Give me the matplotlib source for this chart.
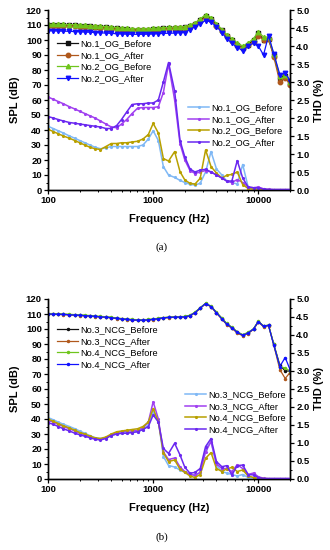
import numpy as np
import matplotlib
matplotlib.use('Agg')
import matplotlib.pyplot as plt
from matplotlib.ticker import MultipleLocator, FormatStrFormatter, LogLocator, NullFormatter

plt.rcParams['font.family'] = ['Liberation Sans', 'DejaVu Sans']

freq = [100, 112, 125, 140, 160, 180, 200, 224, 250, 280, 315, 355, 400, 450,
        500, 560, 630, 710, 800, 900, 1000, 1120, 1250, 1400, 1600, 1800, 2000,
        2240, 2500, 2800, 3150, 3550, 4000, 4500, 5000, 5600, 6300, 7100, 8000,
        9000, 10000, 11200, 12500, 14000, 16000, 18000, 20000]

# ---- panel (a) SPL, dB
spl_no1_og_before = [110, 110, 110, 110, 109.8, 109.7, 109.5, 109.4, 109.2, 109, 108.8,
                     108.5, 108.2, 107.8, 107.5, 107.2, 107, 106.8, 106.8, 107, 107.2,
                     107.5, 107.8, 108, 108, 108.2, 108.5, 109.5, 111, 113.5, 116, 114,
                     110, 106.5, 103, 100, 97, 95, 97, 100, 105, 100, 100.5, 90, 75, 76, 71]
spl_no1_og_after = [109.5, 109.5, 109.5, 109.4, 109.3, 109.2, 109, 108.8, 108.6, 108.4,
                    108.2, 108, 107.6, 107.2, 107, 106.8, 106.6, 106.5, 106.5, 106.6,
                    106.8, 107, 107.4, 107.6, 107.8, 108, 108.2, 109, 110.5, 113, 115,
                    113.5, 109.5, 106, 102.5, 99.5, 96.5, 94.5, 96.5, 99, 103, 100, 101,
                    89, 72, 75, 70]
spl_no2_og_before = [110.5, 110.5, 110.5, 110.4, 110.3, 110.2, 110, 109.8, 109.6, 109.4,
                     109.2, 109, 108.7, 108.3, 108, 107.8, 107.6, 107.4, 107.4, 107.6,
                     107.8, 108, 108.3, 108.5, 108.6, 108.8, 109, 110, 111.5, 114, 117,
                     115, 111, 107, 103.5, 101, 98, 96, 98, 101, 105.5, 102, 102, 91, 76,
                     77, 72]
spl_no2_og_after = [106.2, 106.1, 106, 105.9, 105.8, 105.6, 105.5, 105.3, 105.2, 105,
                    104.8, 104.6, 104.4, 104.2, 104, 103.9, 103.8, 103.8, 103.8, 103.9,
                    104, 104.2, 104.4, 104.5, 104.6, 104.8, 105, 107, 109, 111, 113, 112,
                    109, 105, 101, 98, 95, 93, 96, 98, 96, 90, 103, 91, 77, 78, 73]

# ---- panel (a) THD, read in left-axis units (120 dB <-> 5 %)
thd_no1_og_before = [42.5, 41, 39.5, 38, 36, 34.5, 33, 31.5, 30, 28.5, 27.5, 28, 29, 29,
                     29, 29, 29, 29, 30, 34, 39.5, 33, 15.6, 10, 8.4, 6.4, 5, 3.8, 3.3,
                     4.5, 12, 25.6, 14, 10, 6, 5, 4, 17, 2, 1, 0.8, 0.5, 0.3, 0.2, 0.2,
                     0.2, 0.2]
thd_no1_og_after = [62, 60.5, 59, 57.5, 55.5, 54, 52.5, 51, 49.5, 48, 46, 44, 42, 41.5,
                    44, 47, 51, 54.5, 55, 55, 55, 55.5, 65, 84, 60, 31, 20, 13, 11, 12,
                    13, 12, 10, 8, 6, 5, 7, 5, 2, 1.5, 2, 0.8, 0.5, 0.3, 0.3, 0.3, 0.3]
thd_no2_og_before = [40.5, 39, 37.5, 36, 34.5, 33, 31.5, 30, 28.5, 27.5, 27, 29, 31, 31,
                     31.5, 31.5, 32, 32.5, 34, 37, 44.4, 38, 21, 19.3, 25.6, 12.2, 6.7,
                     4.4, 4, 7.8, 26.7, 15.6, 11.3, 8, 9.8, 10.4, 12, 3.6, 1, 0.5, 0.5,
                     0.3, 0.2, 0.2, 0.2, 0.2, 0.2]
thd_no2_og_after = [49, 48, 47, 46, 45, 44.5, 44, 43.5, 43, 42.5, 42, 41, 41, 43, 47, 52,
                    57, 57.5, 57.5, 58, 58, 60, 72, 85, 66, 33, 22, 14, 12, 13.3, 13.8,
                    12, 10, 8, 6, 6, 19.6, 8, 2, 1.5, 1.5, 0.5, 0.3, 0.3, 0.3, 0.3, 0.3]

# ---- panel (b) SPL, dB
spl_no3_ncg_before = [110, 110, 110, 109.8, 109.6, 109.4, 109.2, 109, 108.8, 108.5, 108.2,
                      108, 107.6, 107.2, 106.8, 106.5, 106.2, 106, 106, 106.2, 106.5,
                      107, 107.5, 107.8, 108, 108, 108.2, 109, 111, 114, 117, 115, 111,
                      107, 103.5, 101, 98, 96, 97.5, 100, 105, 102, 102.5, 90, 76, 72, 72]
spl_no3_ncg_after = [109.8, 109.8, 109.7, 109.6, 109.4, 109.2, 109, 108.8, 108.6, 108.3,
                     108, 107.8, 107.4, 107, 106.6, 106.3, 106, 105.8, 105.8, 106, 106.3,
                     106.8, 107.3, 107.6, 107.8, 107.9, 108, 108.8, 110.8, 113.8, 116.8,
                     114.8, 110.6, 106.5, 103, 100.5, 97.3, 95.5, 97, 99.8, 104.6, 101.5,
                     102.2, 89.5, 73, 67, 71]
spl_no4_ncg_before = [110.3, 110.3, 110.2, 110, 109.8, 109.6, 109.4, 109.2, 109, 108.7,
                      108.4, 108.2, 107.8, 107.4, 107, 106.7, 106.4, 106.2, 106.2, 106.4,
                      106.7, 107.2, 107.6, 107.9, 108.1, 108.2, 108.4, 109.2, 111.2,
                      114.2, 117.2, 115.2, 111.2, 107.3, 103.8, 101.2, 98.2, 96.2, 97.8,
                      100.2, 105.2, 102, 102.6, 90, 75, 74, 72]
spl_no4_ncg_after = [110, 109.9, 109.8, 109.7, 109.5, 109.3, 109.1, 108.9, 108.7, 108.4,
                     108.1, 107.9, 107.5, 107.1, 106.7, 106.4, 106.1, 105.9, 105.9, 106.1,
                     106.4, 106.9, 107.4, 107.7, 107.9, 108, 108.1, 108.9, 110.9, 113.9,
                     117, 115, 110.8, 106.8, 103.3, 100.8, 97.8, 95.8, 97.3, 100, 105,
                     101.8, 102.4, 89.5, 75, 81, 73]

# ---- panel (b) THD, read in left-axis units
thd_no3_ncg_before = [41, 39.5, 38, 36.5, 35, 33.5, 32, 30.5, 29, 27.5, 27, 27.5, 29, 30,
                      30.5, 31, 31, 31.5, 33, 36, 45, 39, 15, 9, 8, 6, 4.5, 3, 2.5, 4, 20,
                      25, 9, 5, 4, 3, 2, 3, 1, 0.5, 0.3, 0.2, 0.2, 0.2, 0.2, 0.2, 0.2]
thd_no3_ncg_after = [39, 38, 36.5, 35, 33.5, 32, 30.5, 29.5, 28, 27, 26.5, 27.5, 29.5, 31,
                     31.5, 32, 32, 32.5, 34, 38, 51.5, 40, 18, 13, 14, 8, 5, 3, 2.5, 4.5,
                     18, 25, 10, 7, 7, 5, 9.5, 7, 3, 4, 1.5, 0.5, 0.3, 0.3, 0.3, 0.3, 0.3]
thd_no4_ncg_before = [40, 38.5, 37, 35.5, 34, 32.5, 31, 30, 28.5, 27.5, 27, 28, 30, 31.5,
                      32, 32.5, 33, 33.5, 35, 38, 47, 38, 17.5, 11.6, 12.7, 6.5, 4.4, 2, 1,
                      3, 13.8, 17.6, 7, 5, 6.7, 7.8, 5, 6, 2, 1, 0.5, 0.3, 0.2, 0.2, 0.2,
                      0.2, 0.2]
thd_no4_ncg_after = [37.5, 36.5, 35, 33.5, 32, 30.5, 29.5, 28.5, 27.5, 26.5, 26, 27, 29,
                     30, 30.5, 30.5, 31, 31.5, 33, 35, 42.7, 38, 20.4, 17, 23.8, 16, 7.8,
                     3.8, 4.4, 7, 21.6, 27, 11.6, 8.2, 8.9, 2.7, 8.9, 9.3, 3, 2.7, 1, 0.3,
                     0.3, 0.3, 0.3, 0.3, 0.3]

spl_labels_a = ['No.1_OG_Before', 'No.1_OG_After', 'No.2_OG_Before', 'No.2_OG_After']
spl_labels_b = ['No.3_NCG_Before', 'No.3_NCG_After', 'No.4_NCG_Before', 'No.4_NCG_After']

spl_colors = ['#111111', '#b0581c', '#6fc51c', '#1010ff']
thd_colors = ['#7fb8f5', '#a040f0', '#b8a000', '#6a28f0']

W, H = 330, 550
fig = plt.figure(figsize=(W / 100, H / 100), dpi=100)


def style_axes(ax, ax2):
    ax.set_xscale('log')
    ax.set_xlim(100, 20000)
    ax.set_ylim(0, 120)
    ax2.set_ylim(0, 5)
    ax.yaxis.set_major_locator(MultipleLocator(10))
    ax.yaxis.set_minor_locator(MultipleLocator(5))
    ax2.yaxis.set_major_locator(MultipleLocator(0.5))
    ax2.yaxis.set_minor_locator(MultipleLocator(0.25))
    ax2.yaxis.set_major_formatter(FormatStrFormatter('%.1f'))
    ax.xaxis.set_minor_locator(LogLocator(base=10, subs=np.arange(2, 10)))
    ax.xaxis.set_minor_formatter(NullFormatter())
    ax.set_xticks([100, 1000, 10000])
    ax.set_xticklabels(['100', '1000', '10000'])
    for a in (ax, ax2):
        a.spines['top'].set_visible(False)
        for s in a.spines.values():
            s.set_linewidth(1.0)
        a.tick_params(which='major', direction='out', length=3, width=0.9,
                      labelsize=6.8, pad=1.5)
        a.tick_params(which='minor', direction='out', length=1.6, width=0.7)
        for t in a.get_xticklabels() + a.get_yticklabels():
            t.set_fontweight('bold')
    ax.set_ylabel('SPL (dB)', fontsize=8, fontweight='bold', labelpad=4)
    ax2.set_ylabel('THD (%)', fontsize=8, fontweight='bold', labelpad=3)
    ax.set_xlabel('Frequency (Hz)', fontsize=8, fontweight='bold', labelpad=6)


def panel(rect, spl, spl_labels, spl_markers, spl_ms, thd, thd_labels,
          leg1_xy, leg2_xy):
    ax = fig.add_axes(rect)
    ax2 = ax.twinx()
    h1 = []
    for vals, lab, c, m in zip(spl, spl_labels, spl_colors, spl_markers):
        h, = ax.plot(freq, vals, '-', color=c, marker=m, ms=spl_ms, lw=0.9,
                     label=lab)
        h1.append(h)
    h2 = []
    for vals, lab, c in zip(thd, thd_labels, thd_colors):
        h, = ax2.plot(freq, np.array(vals) / 24.0, '-', color=c, marker='.',
                      ms=2.5, lw=1.1, label=lab)
        h2.append(h)
    style_axes(ax, ax2)
    kw = dict(frameon=False, fontsize=6.7, loc='upper left', borderpad=0,
              borderaxespad=0, handlelength=2.3, handletextpad=0.2,
              labelspacing=0.3, numpoints=1, bbox_transform=fig.transFigure)
    leg1 = ax2.legend(h1, spl_labels,
                      bbox_to_anchor=(leg1_xy[0] / W, 1 - leg1_xy[1] / H), **kw)
    ax2.add_artist(leg1)
    ax2.legend(h2, thd_labels,
               bbox_to_anchor=(leg2_xy[0] / W, 1 - leg2_xy[1] / H), **kw)
    return ax


ax_a = panel([48 / W, 1 - 190 / H, 242 / W, 180 / H],
             [spl_no1_og_before, spl_no1_og_after, spl_no2_og_before, spl_no2_og_after],
             spl_labels_a, ['s', 'o', '^', 'v'], 3.2,
             [thd_no1_og_before, thd_no1_og_after, thd_no2_og_before, thd_no2_og_after],
             spl_labels_a, (57, 39), (188, 103))

ax_b = panel([48 / W, 1 - 479 / H, 242 / W, 180 / H],
             [spl_no3_ncg_before, spl_no3_ncg_after, spl_no4_ncg_before, spl_no4_ncg_after],
             spl_labels_b, ['.', '.', '.', '.'], 3.0,
             [thd_no3_ncg_before, thd_no3_ncg_after, thd_no4_ncg_before, thd_no4_ncg_after],
             spl_labels_b, (57, 325), (185, 390))

fig.text(162 / W, 1 - 247 / H, '(a)', family='Liberation Serif', fontsize=8,
         ha='center', va='center')
fig.text(162 / W, 1 - 537 / H, '(b)', family='Liberation Serif', fontsize=8,
         ha='center', va='center')

fig.savefig('out.png', dpi=100)
